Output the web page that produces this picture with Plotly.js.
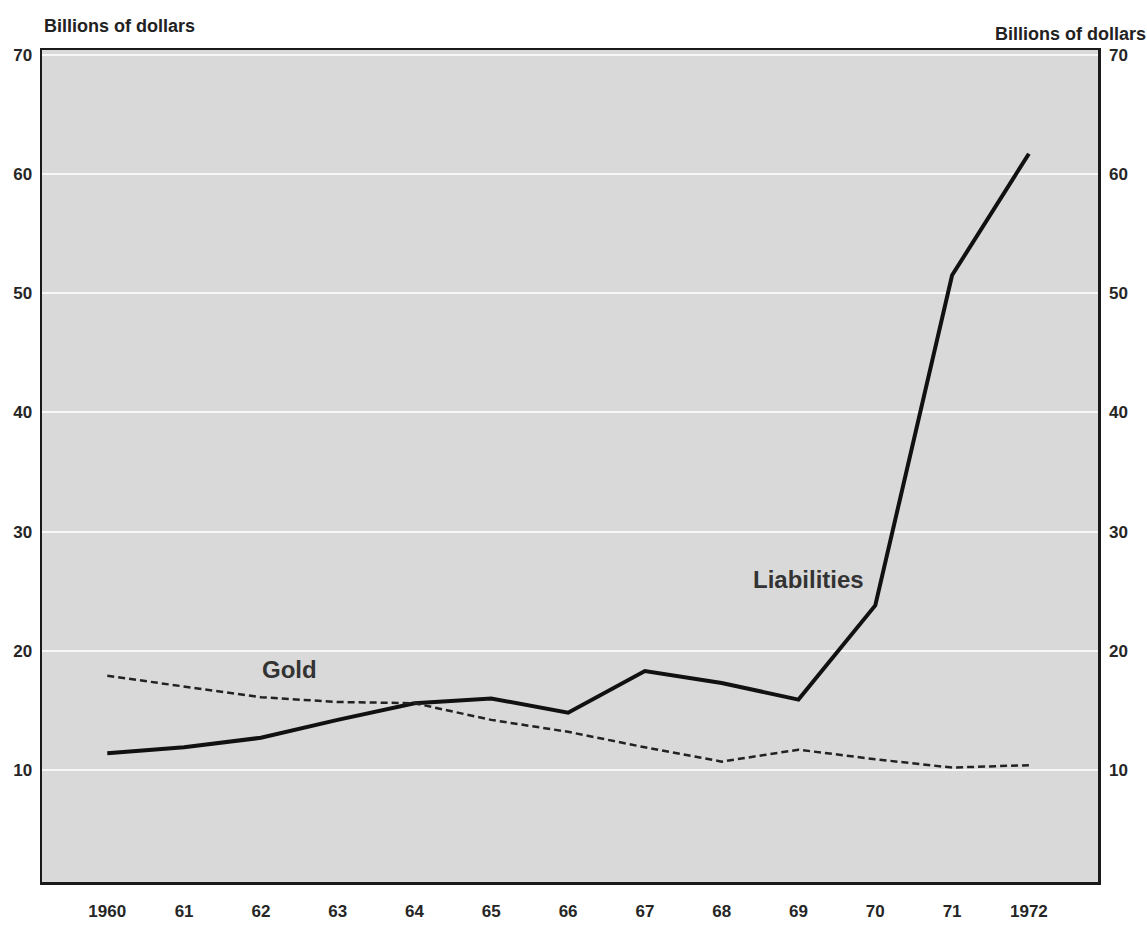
<!DOCTYPE html>
<html>
<head>
<meta charset="utf-8">
<script src="https://cdn.plot.ly/plotly-3.0.1.min.js"></script>
<style>html,body{margin:0;padding:0;background:#fff;}#chart{width:1147px;height:926px;}</style>
</head>
<body>
<div id="chart"></div>
<script>
const years = [1960, 1961, 1962, 1963, 1964, 1965, 1966, 1967, 1968, 1969, 1970, 1971, 1972];
const yearLabels = ["1960", "61", "62", "63", "64", "65", "66", "67", "68", "69", "70", "71", "1972"];
const liabilities = [11.4, 11.9, 12.7, 14.2, 15.6, 16.0, 14.8, 18.3, 17.3, 15.9, 23.8, 51.5, 61.7];
const gold = [17.9, 17.0, 16.1, 15.7, 15.6, 14.2, 13.2, 11.9, 10.7, 11.7, 10.9, 10.2, 10.4];
const yTicks = [10, 20, 30, 40, 50, 60, 70];

const fam = "Liberation Sans, Arial, sans-serif";
const tickFont = {family: fam, size: 17, color: "#262626", weight: "bold"};

const traces = [
  {x: years, y: liabilities, type: "scatter", mode: "lines", name: "Liabilities",
   line: {color: "#111", width: 4}},
  {x: years, y: gold, type: "scatter", mode: "lines", name: "Gold",
   line: {color: "#222", width: 2.5, dash: "7px,4px"}},
  {x: [years[0]], y: [liabilities[0]], yaxis: "y2", type: "scatter", mode: "markers",
   marker: {opacity: 0}, hoverinfo: "skip", showlegend: false}
];

const layout = {
  width: 1147, height: 926,
  margin: {l: 42, r: 49, t: 50, b: 44},
  paper_bgcolor: "#ffffff",
  plot_bgcolor: "#d9d9d9",
  showlegend: false,
  xaxis: {
    range: [1959.15, 1972.9],
    tickvals: years, ticktext: yearLabels,
    showgrid: false, zeroline: false,
    showline: true, mirror: true, linecolor: "#1a1a1a", linewidth: 2.5,
    ticks: "", ticklabelstandoff: 12,
    tickfont: tickFont
  },
  yaxis: {
    range: [0.6, 70.4],
    tickvals: yTicks,
    showgrid: true, gridcolor: "#f7f7f7", gridwidth: 2,
    zeroline: false,
    showline: true, mirror: true, linecolor: "#1a1a1a", linewidth: 2.5,
    ticks: "", ticklabelstandoff: 4,
    tickfont: tickFont
  },
  yaxis2: {
    range: [0.6, 70.4],
    tickvals: yTicks,
    overlaying: "y", side: "right",
    showgrid: false, zeroline: false, showline: false,
    ticks: "", ticklabelstandoff: 10,
    tickfont: tickFont
  },
  annotations: [
    {xref: "paper", yref: "paper", x: 0.0, y: 1.0, yshift: 12, xanchor: "left", yanchor: "bottom",
     text: "Billions of dollars", showarrow: false,
     font: {family: fam, size: 18, color: "#222", weight: "bold"}},
    {xref: "paper", yref: "paper", x: 1.047, y: 1.0, yshift: 4, xanchor: "right", yanchor: "bottom",
     text: "Billions of dollars", showarrow: false,
     font: {family: fam, size: 18, color: "#222", weight: "bold"}},
    {x: 1962.37, y: 18.4, xref: "x", yref: "y", text: "Gold", showarrow: false,
     font: {family: fam, size: 24, color: "#333", weight: "bold"}},
    {x: 1969.13, y: 26.0, xref: "x", yref: "y", text: "Liabilities", showarrow: false,
     font: {family: fam, size: 24, color: "#333", weight: "bold"}}
  ]
};

Plotly.newPlot("chart", traces, layout, {displayModeBar: false, staticPlot: true});
</script>
</body>
</html>
